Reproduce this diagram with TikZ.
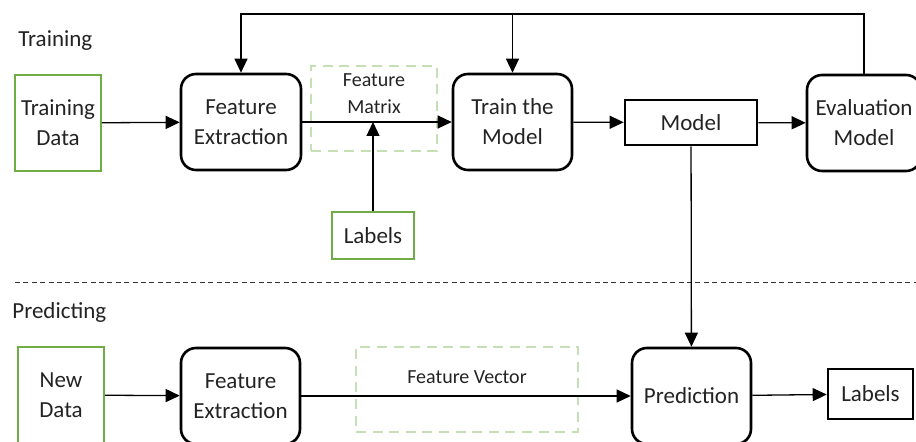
\documentclass[tikz,border=0pt]{standalone}
\usepackage{fontspec}
\setmainfont{Carlito}
\usepackage{tikz}
\usetikzlibrary{arrows.meta}
\definecolor{verde}{RGB}{112,173,71}
\definecolor{verdeclaro}{RGB}{197,224,180}
\definecolor{texto}{RGB}{35,35,35}
\newcommand{\letra}{\fontsize{11.5}{15}\selectfont}
\newcommand{\letrachica}{\fontsize{10}{13.5}\selectfont}
\tikzstyle{caja} = [rectangle, rounded corners=7.5pt, minimum width=60pt, minimum height=48pt, align=center, draw=black, line width=1.3pt, inner sep=0pt, text=texto, font=\letra]
\tikzstyle{cajaverde} = [rectangle, minimum width=43pt, minimum height=48pt, align=center, draw=verde, line width=1pt, inner sep=0pt, text=texto, font=\letra]
\tikzstyle{cajanegra} = [rectangle, align=center, draw=black, line width=1.3pt, inner sep=0pt, text=texto, font=\letra]
\tikzstyle{cajapuntos} = [rectangle, draw=verdeclaro, line width=1pt, dash pattern=on 5pt off 3.3pt]
\tikzstyle{solotexto} = [align=center, inner sep=0pt, text=texto, font=\letra]
\tikzstyle{arrow} = [line width=0.65pt, -{Triangle[length=7pt,width=6.5pt]}]

\begin{document}
\begin{tikzpicture}[x=0.5pt, y=-0.5pt]
        \useasboundingbox (0,0) rectangle (916,442);

        % Training
        \node (titent) [solotexto, anchor=west] at (18,41) {Training};
        \node (tdata) [cajaverde] at (58,123) {Training\\Data};
        \node (fe1) [caja] at (241,122) {Feature\\Extraction};
        \node (fmat) [cajapuntos, minimum width=63pt, minimum height=42.5pt] at (374,108.5) {};
        \node (fmattxt) [solotexto, font=\letrachica] at (374,94) {Feature\\Matrix};
        \node (lab1) [cajaverde, minimum width=41pt, minimum height=23.5pt] at (373,235.5) {Labels};
        \node (train) [caja, minimum width=59.5pt] at (512.5,122) {Train the\\Model};
        \node (model) [cajanegra, minimum width=66pt, minimum height=22.5pt] at (691,122.5) {Model};
        \node (eval) [caja, minimum width=57pt] at (864,123) {Evaluation\\Model};

        \draw [arrow] (tdata) -- (fe1);
        \draw [arrow] (fe1) -- (train);
        \draw [arrow] (lab1) -- (lab1 |- fe1);
        \draw [arrow] (train) -- (model);
        \draw [arrow] (model) -- (eval);

        % retroalimentacion
        \coordinate (arriba) at (0,14);
        \draw [arrow] (eval.north) |- (arriba -| fe1.north) -- (fe1.north);
        \draw [arrow] (arriba -| train.north) -- (train.north);

        % separador
        \coordinate (sepizq) at (15,283);
        \coordinate (sepder) at (916,283);
        \draw [line width=0.5pt, black!80, dash pattern=on 2.5pt off 1.7pt] (sepizq) -- (sepder);

        % Predicting
        \node (tipred) [solotexto, anchor=west] at (12,312) {Predicting};
        \node (ndata) [cajaverde] at (61,395) {New\\Data};
        \node (fe2) [caja, minimum width=59.5pt] at (240.5,396) {Feature\\Extraction};
        \node (fvec) [cajapuntos, minimum width=111pt, minimum height=42.5pt] at (467,389.5) {};
        \node (fvectxt) [solotexto, font=\letrachica] at (467,377) {Feature Vector};
        \node (pred) [caja, minimum width=59.5pt] at (691.5,396) {Prediction};
        \node (lab2) [cajanegra, minimum width=42.5pt, minimum height=25pt] at (870.5,394) {Labels};

        \draw [arrow] (ndata) -- (fe2);
        \draw [arrow] (fe2) -- (pred);
        \draw [arrow] (pred) -- (lab2);
        \draw [arrow] (model) -- (pred);
    \end{tikzpicture}
\end{document}
